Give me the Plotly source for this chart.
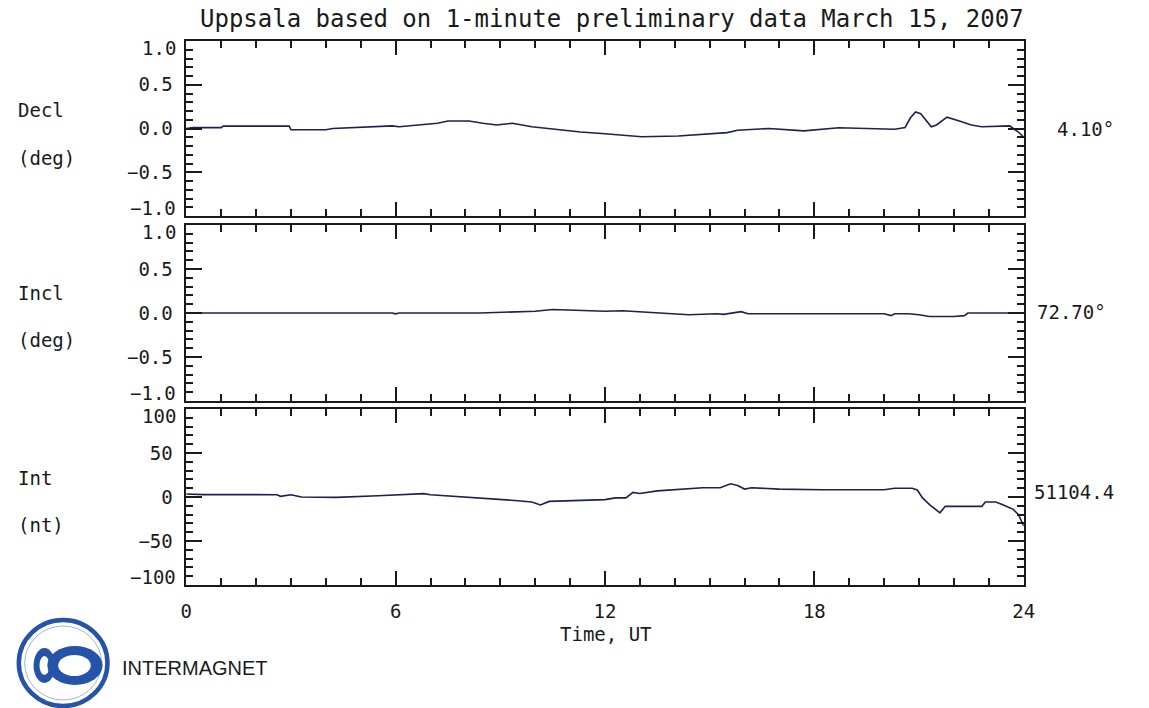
import plotly.graph_objects as go

W, H = 1149, 708

TITLE = "Uppsala based on 1-minute preliminary data March 15, 2007"
X_TICKS = [0, 6, 12, 18, 24]
X_TICK_TEXT = ["0", "6", "12", "18", "24"]

# Declination deviation (deg) against hour UT
decl_t = [0.0, 0.2, 1.0, 1.06, 2.95, 3.0, 3.3, 4.0, 4.2, 5.9, 6.1, 6.8, 7.2, 7.5, 8.1,
          8.5, 8.9, 9.35, 9.9, 10.5, 11.3, 12.0, 12.5, 13.05, 14.1, 14.9, 15.5, 15.8,
          16.7, 17.7, 18.7, 20.3, 20.6, 20.75, 20.9, 21.05, 21.2, 21.35, 21.5, 21.8,
          22.2, 22.5, 22.8, 23.4, 23.6, 23.7, 23.85, 24.0]
decl_v = [0.0, 0.01, 0.01, 0.027, 0.027, -0.015, -0.015, -0.015, 0.0, 0.03, 0.02, 0.04,
          0.06, 0.085, 0.085, 0.06, 0.04, 0.06, 0.02, -0.005, -0.04, -0.06, -0.08, -0.094,
          -0.086, -0.067, -0.047, -0.02, 0.0, -0.027, 0.008, -0.008, 0.01, 0.12, 0.19,
          0.17, 0.1, 0.02, 0.04, 0.13, 0.08, 0.04, 0.02, 0.027, 0.03, 0.0, -0.04, -0.1]

# Inclination deviation (deg)
incl_t = [0.0, 5.9, 6.0, 6.1, 8.4, 9.0, 10.0, 10.5, 12.0, 12.5, 14.2, 14.4, 15.2, 15.4,
          15.9, 16.1, 20.0, 20.2, 20.3, 20.7, 21.0, 21.3, 22.0, 22.3, 22.4, 24.0]
incl_v = [0.0, 0.0, -0.01, 0.0, 0.0, 0.01, 0.02, 0.04, 0.02, 0.025, -0.008, -0.02, -0.008,
          -0.015, 0.015, -0.008, -0.008, -0.03, -0.008, -0.008, -0.02, -0.04, -0.04, -0.03,
          0.0, 0.0]

# Total intensity deviation (nT)
int_t = [0.0, 0.5, 1.7, 2.6, 2.7, 3.0, 3.3, 4.3, 5.5, 6.2, 6.8, 7.0, 8.3, 9.0, 9.5,
         9.9, 10.15, 10.4, 11.0, 12.0, 12.3, 12.6, 12.8, 13.0, 13.5, 14.2, 14.8, 15.3,
         15.6, 15.8, 16.0, 16.2, 17.0, 18.2, 20.0, 20.3, 20.8, 20.95, 21.1, 21.3, 21.6,
         21.75, 22.0, 22.8, 22.9, 23.2, 23.4, 23.7, 23.85, 24.0]
int_v = [3.4, 2.7, 2.7, 2.6, 0.8, 2.6, 0.0, -0.4, 1.5, 2.6, 3.8, 2.6, -0.8, -2.3, -4.2,
         -5.7, -9.0, -5.0, -4.2, -3.0, -1.0, -1.0, 5.3, 4.0, 7.0, 9.0, 10.5, 10.5, 15.0,
         13.0, 9.0, 10.5, 9.0, 8.3, 8.3, 10.0, 10.0, 8.0, -1.0, -8.7, -18.0, -10.6,
         -10.6, -10.6, -5.7, -5.7, -8.7, -14.0, -20.0, -33.0]

PANEL_NAMES = ["Decl", "Incl", "Int"]
PANEL_UNITS = ["(deg)", "(deg)", "(nt)"]
BASELINES = ["4.10°", "72.70°", "51104.4"]

ANGLE_TICKS = [-1.0, -0.5, 0.0, 0.5, 1.0]
ANGLE_TICK_TEXT = ["−1.0", "−0.5", "0.0", "0.5", "1.0"]
NT_TICKS = [-100, -50, 0, 50, 100]
NT_TICK_TEXT = ["−100", "−50", "0", "50", "100"]

INK = "#1a1a1a"
LINE = "#1c2052"
MONO = "DejaVu Sans Mono"


def px(x):
    return x / W


def py(y):
    return 1 - y / H


# pixel frame of each panel: (top, bottom)
frames = [(41, 216), (225, 401), (409, 585)]
x_left, x_right = 183, 1033

series = [(decl_t, decl_v), (incl_t, incl_v), (int_t, int_v)]
y_setup = [
    dict(range=[-1, 1], tickvals=ANGLE_TICKS, ticktext=ANGLE_TICK_TEXT, minor=0.1),
    dict(range=[-1, 1], tickvals=ANGLE_TICKS, ticktext=ANGLE_TICK_TEXT, minor=0.1),
    dict(range=[-100, 100], tickvals=NT_TICKS, ticktext=NT_TICK_TEXT, minor=10),
]

fig = go.Figure()
layout = {}
annotations = []
for i, ((t, v), ys, (top, bot)) in enumerate(zip(series, y_setup, frames)):
    n = "" if i == 0 else str(i + 1)
    fig.add_trace(go.Scatter(
        x=t, y=v, xaxis="x" + n, yaxis="y" + n, mode="lines",
        line=dict(color=LINE, width=1.6), showlegend=False, hoverinfo="skip"))
    layout["xaxis" + n] = dict(
        domain=[px(x_left), px(x_right)], range=[0, 24], anchor="y" + n,
        tickvals=X_TICKS, ticktext=X_TICK_TEXT, ticks="inside", ticklen=14,
        tickwidth=1.5, tickcolor=INK, showline=True, linecolor=INK, linewidth=1.5,
        mirror="ticks", showgrid=False, zeroline=False,
        showticklabels=(i == 2), ticklabelstandoff=8,
        tickfont=dict(family=MONO, size=19, color=INK),
        minor=dict(dtick=1, tick0=0, ticks="inside", ticklen=7, tickwidth=1.5,
                   tickcolor=INK, showgrid=False))
    # the end labels sit just inside the frame, so they are set as text on the axis scale
    inner_text = ["" if k in (0, len(ys["ticktext"]) - 1) else s
                  for k, s in enumerate(ys["ticktext"])]
    layout["yaxis" + n] = dict(
        domain=[py(bot), py(top)], range=ys["range"], anchor="x" + n,
        tickvals=ys["tickvals"], ticktext=inner_text, ticks="inside", ticklen=16,
        tickwidth=1.5, tickcolor=INK, showline=True, linecolor=INK, linewidth=1.5,
        mirror="ticks", showgrid=False, zeroline=False, ticklabelstandoff=8,
        tickfont=dict(family=MONO, size=19, color=INK),
        minor=dict(dtick=ys["minor"], tick0=0, ticks="inside", ticklen=7, tickwidth=1.5,
                   tickcolor=INK, showgrid=False))
    for k, shift in ((0, 8), (len(ys["tickvals"]) - 1, -7)):
        annotations.append(dict(
            xref="paper", yref="y" + n, x=px(x_left - 8), y=ys["tickvals"][k],
            yshift=shift, text=ys["ticktext"][k], xanchor="right",
            font=dict(family=MONO, size=19, color=INK)))

annotations += [
    dict(x=px(615), y=py(19), text=TITLE, font=dict(family=MONO, size=24, color=INK)),
    dict(x=px(609), y=py(634), text="Time, UT", font=dict(family=MONO, size=19, color=INK)),
]
name_rows = [(110, 158), (293, 340), (478, 525)]
value_rows = [129, 312, 492]
for name, unit, (yn, yu) in zip(PANEL_NAMES, PANEL_UNITS, name_rows):
    annotations.append(dict(x=px(10), y=py(yn), text=name, xanchor="left",
                            font=dict(family=MONO, size=19, color=INK)))
    annotations.append(dict(x=px(10), y=py(yu), text=unit, xanchor="left",
                            font=dict(family=MONO, size=19, color=INK)))
for base, yv, xr in zip(BASELINES, value_rows, [1127, 1119, 1127]):
    annotations.append(dict(x=px(xr), y=py(yv), text=base, xanchor="right",
                            font=dict(family=MONO, size=19, color=INK)))
annotations.append(dict(x=px(116), y=py(668), text="INTERMAGNET", xanchor="left",
                        font=dict(family="Liberation Sans", size=20, color=INK)))
for a in annotations:
    a.setdefault("xref", "paper")
    a.setdefault("yref", "paper")
    a["showarrow"] = False
    a.setdefault("xanchor", "center")
    a.setdefault("yanchor", "middle")

BLUE = "#2453a8"


def ellipse(x0, y0, x1, y1, **kw):
    return dict(type="circle", xref="paper", yref="paper",
                x0=px(x0), x1=px(x1), y0=py(y1), y1=py(y0), **kw)


shapes = [
    ellipse(13, 620, 103, 706, line=dict(color=BLUE, width=4.5), fillcolor="white"),
    ellipse(19, 626, 97, 700, line=dict(color="#9db4de", width=1)),
    ellipse(28, 648, 50, 683, line=dict(width=0), fillcolor=BLUE),
    ellipse(34, 656, 44, 675, line=dict(width=0), fillcolor="white"),
    ellipse(42, 646, 98, 685, line=dict(width=0), fillcolor=BLUE),
    ellipse(53, 655, 86, 676, line=dict(width=0), fillcolor="white"),
]

fig.update_layout(
    width=W, height=H, margin=dict(l=0, r=0, t=0, b=0),
    paper_bgcolor="white", plot_bgcolor="white",
    annotations=annotations, shapes=shapes, **layout)

fig.write_html("out.html")
